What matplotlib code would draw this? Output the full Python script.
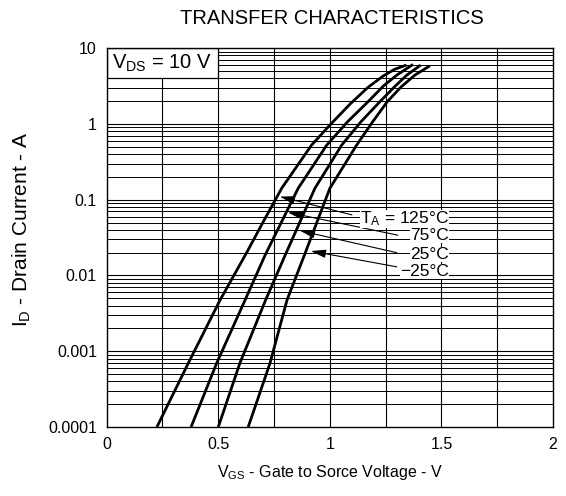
import numpy as np
import matplotlib
matplotlib.use("Agg")
import matplotlib.pyplot as plt
from matplotlib.ticker import FixedLocator, NullFormatter
from matplotlib.patches import Rectangle

plt.rcParams['font.family'] = ['Liberation Sans', 'DejaVu Sans']
plt.rcParams['mathtext.fontset'] = 'custom'
plt.rcParams['mathtext.rm'] = 'Liberation Sans'
plt.rcParams['mathtext.it'] = 'Liberation Sans'

# gate voltage (V) and log10 of drain current (A)
vgs_125 = [0.225, 0.366, 0.508, 0.627, 0.700, 0.784, 0.918, 1.000, 1.090, 1.170, 1.238, 1.290, 1.343]
log_id_125 = [-4.0, -3.156, -2.325, -1.70, -1.30, -0.85, -0.28, -0.016, 0.26, 0.48, 0.63, 0.72, 0.776]

vgs_75 = [0.378, 0.493, 0.620, 0.710, 0.858, 0.986, 1.080, 1.171, 1.240, 1.300, 1.373]
log_id_75 = [-4.0, -3.156, -2.325, -1.731, -0.85, -0.28, 0.03, 0.292, 0.50, 0.644, 0.785]

vgs_25 = [0.500, 0.597, 0.712, 0.800, 0.933, 1.053, 1.140, 1.224, 1.290, 1.345, 1.407]
log_id_25 = [-4.0, -3.156, -2.325, -1.731, -0.85, -0.28, 0.03, 0.292, 0.49, 0.644, 0.776]

vgs_m25 = [0.634, 0.732, 0.808, 0.886, 1.000, 1.120, 1.190, 1.257, 1.320, 1.381, 1.448]
log_id_m25 = [-4.0, -3.156, -2.325, -1.731, -0.85, -0.28, 0.02, 0.292, 0.49, 0.644, 0.766]

y_ticks = [1e-4, 1e-3, 1e-2, 1e-1, 1, 10]
y_tick_labels = ["0.0001", "0.001", "0.01", "0.1", "1", "10"]
x_ticks = [0, 0.5, 1, 1.5, 2]
x_tick_labels = ["0", "0.5", "1", "1.5", "2"]

fig = plt.figure(figsize=(5.66, 4.96), dpi=100)
ax = fig.add_axes([0.1885, 0.139, 0.7885, 0.764])
ax.set_yscale('log')
ax.set_xlim(0, 2)
ax.set_ylim(1e-4, 10)

# grid: every 0.25 V, and 1..9 in each decade
minor_y = [m * 10.0 ** e for e in range(-4, 1) for m in range(2, 10)]
for v in np.arange(0.25, 2.0, 0.25):
    ax.axvline(v, color='black', lw=0.8, zorder=1)
for yv in y_ticks[1:-1]:
    ax.axhline(yv, color='black', lw=0.8, zorder=1)
for yv in minor_y:
    ax.axhline(yv, color='black', lw=0.7, zorder=1)

ax.set_xticks(x_ticks)
ax.set_xticklabels(x_tick_labels)
ax.set_yticks(y_ticks)
ax.set_yticklabels(y_tick_labels)
ax.yaxis.set_minor_locator(FixedLocator(minor_y))
ax.yaxis.set_minor_formatter(NullFormatter())
ax.tick_params(which='both', length=0, labelsize=11.5, pad=7)
for s in ax.spines.values():
    s.set_linewidth(1.0)

for xs, ls in [(vgs_125, log_id_125), (vgs_75, log_id_75),
               (vgs_25, log_id_25), (vgs_m25, log_id_m25)]:
    ax.plot(xs, 10.0 ** np.array(ls), color='black', lw=2.0, zorder=3,
            solid_capstyle='butt', solid_joinstyle='round')

# V_DS box in the top-left corner
ax.add_patch(Rectangle((0, 4), 0.5, 6, facecolor='white', edgecolor='black',
                       lw=0.9, zorder=2))
ax.text(0.022, 6.3, r'$\mathregular{V_{DS}}$ = 10 V', fontsize=14.5,
        va='center', ha='left', zorder=4)

# temperature labels with arrows
arrow_kw = dict(arrowstyle='-|>,head_length=0.9,head_width=0.25',
                color='black', lw=0.8, shrinkA=0, shrinkB=0)
ax.annotate('', xy=(0.776, 0.110), xytext=(1.099, 0.063), arrowprops=arrow_kw, zorder=5)
ax.annotate('', xy=(0.812, 0.068), xytext=(1.305, 0.034), arrowprops=arrow_kw, zorder=5)
ax.annotate('', xy=(0.866, 0.039), xytext=(1.300, 0.020), arrowprops=arrow_kw, zorder=5)
ax.annotate('', xy=(0.915, 0.021), xytext=(1.300, 0.0130), arrowprops=arrow_kw, zorder=5)

txt_kw = dict(fontsize=12.5, ha='right', va='center', zorder=6,
              bbox=dict(facecolor='white', edgecolor='none', pad=0.0))
ax.text(1.535, 0.0555, r'$\mathregular{T_A}$ = 125°C', **txt_kw)
ax.text(1.535, 0.034, '75°C', **txt_kw)
ax.text(1.535, 0.0191, '25°C', **txt_kw)
ax.text(1.535, 0.0114, '−25°C', **txt_kw)

fig.text(0.587, 0.962, 'TRANSFER CHARACTERISTICS', ha='center', va='center',
         fontsize=14.5)
ax.set_xlabel(r'$\mathregular{V_{GS}}$ - Gate to Sorce Voltage - V', fontsize=11.5,
              labelpad=8)
ax.set_ylabel(r'$\mathregular{I_D}$ - Drain Current - A', fontsize=15)
ax.yaxis.set_label_coords(-0.165, 0.522)

fig.savefig('out.png', dpi=100)
